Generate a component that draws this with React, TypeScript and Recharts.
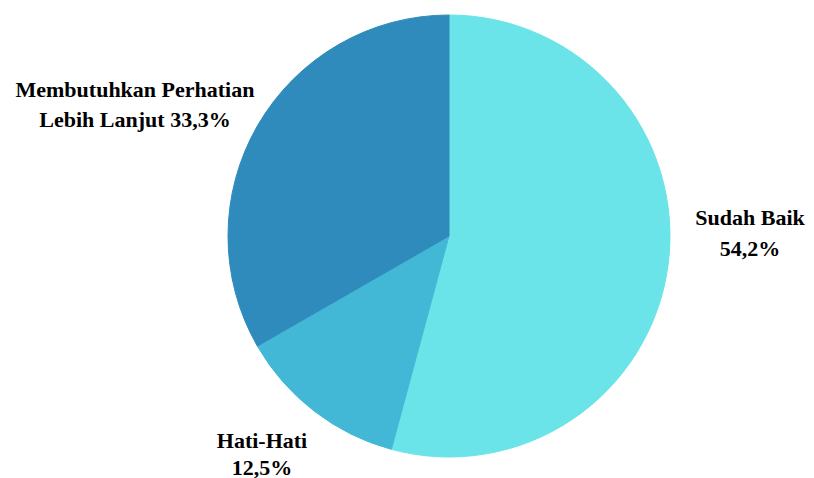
import { PieChart, Pie, Cell } from "recharts";

// kategori dan nilai (persen)
const CATEGORIES = ["Sudah Baik", "Hati-Hati", "Membutuhkan Perhatian Lebih Lanjut"];
const VALUES = [54.2, 12.5, 33.3];
const VALUE_LABELS = ["54,2%", "12,5%", "33,3%"];
const COLORS = ["#6ae4e8", "#42b8d6", "#2e8bbb"];

// teks label dibagi jadi dua baris
const LABEL_LINES = [
    ["Sudah Baik", "54,2%"],
    ["Hati-Hati", "12,5%"],
    ["Membutuhkan Perhatian", "Lebih Lanjut 33,3%"],
];

// posisi label relatif ke pusat pie
const LABEL_OFFSETS = [
    { dx: 301, dy: -11, gap: 31 },
    { dx: -187, dy: 212, gap: 27 },
    { dx: -314, dy: -139, gap: 30 },
];

const FONT = "'Liberation Serif', 'Times New Roman', Times, serif";

const data = CATEGORIES.map((name, i) => ({
    name,
    value: VALUES[i],
    label: VALUE_LABELS[i],
}));

const renderLabel = (props: any) => {
    const { cx, cy, index } = props;
    const off = LABEL_OFFSETS[index];
    const lines = LABEL_LINES[index];
    return (
        <text
            x={cx + off.dx}
            y={cy + off.dy}
            textAnchor="middle"
            fill="#000"
            style={{ fontFamily: FONT, fontWeight: 700, fontSize: 22 }}
        >
            {lines.map((l, i) => (
                <tspan key={i} x={cx + off.dx} dy={i === 0 ? 0 : off.gap}>
                    {l}
                </tspan>
            ))}
        </text>
    );
};

export default function App() {
    return (
        <div style={{ position: "absolute", left: 0, top: 0, width: 814, height: 478, background: "#fff" }}>
            <PieChart width={814} height={478} style={{ fontFamily: FONT }}>
                <Pie
                    data={data}
                    dataKey="value"
                    nameKey="name"
                    cx={444}
                    cy={231}
                    outerRadius={221}
                    startAngle={90}
                    endAngle={-270}
                    label={renderLabel}
                    labelLine={false}
                    isAnimationActive={false}
                >
                    {data.map((d, i) => (
                        <Cell key={d.name} fill={COLORS[i]} stroke={COLORS[i]} />
                    ))}
                </Pie>
            </PieChart>
        </div>
    );
}
